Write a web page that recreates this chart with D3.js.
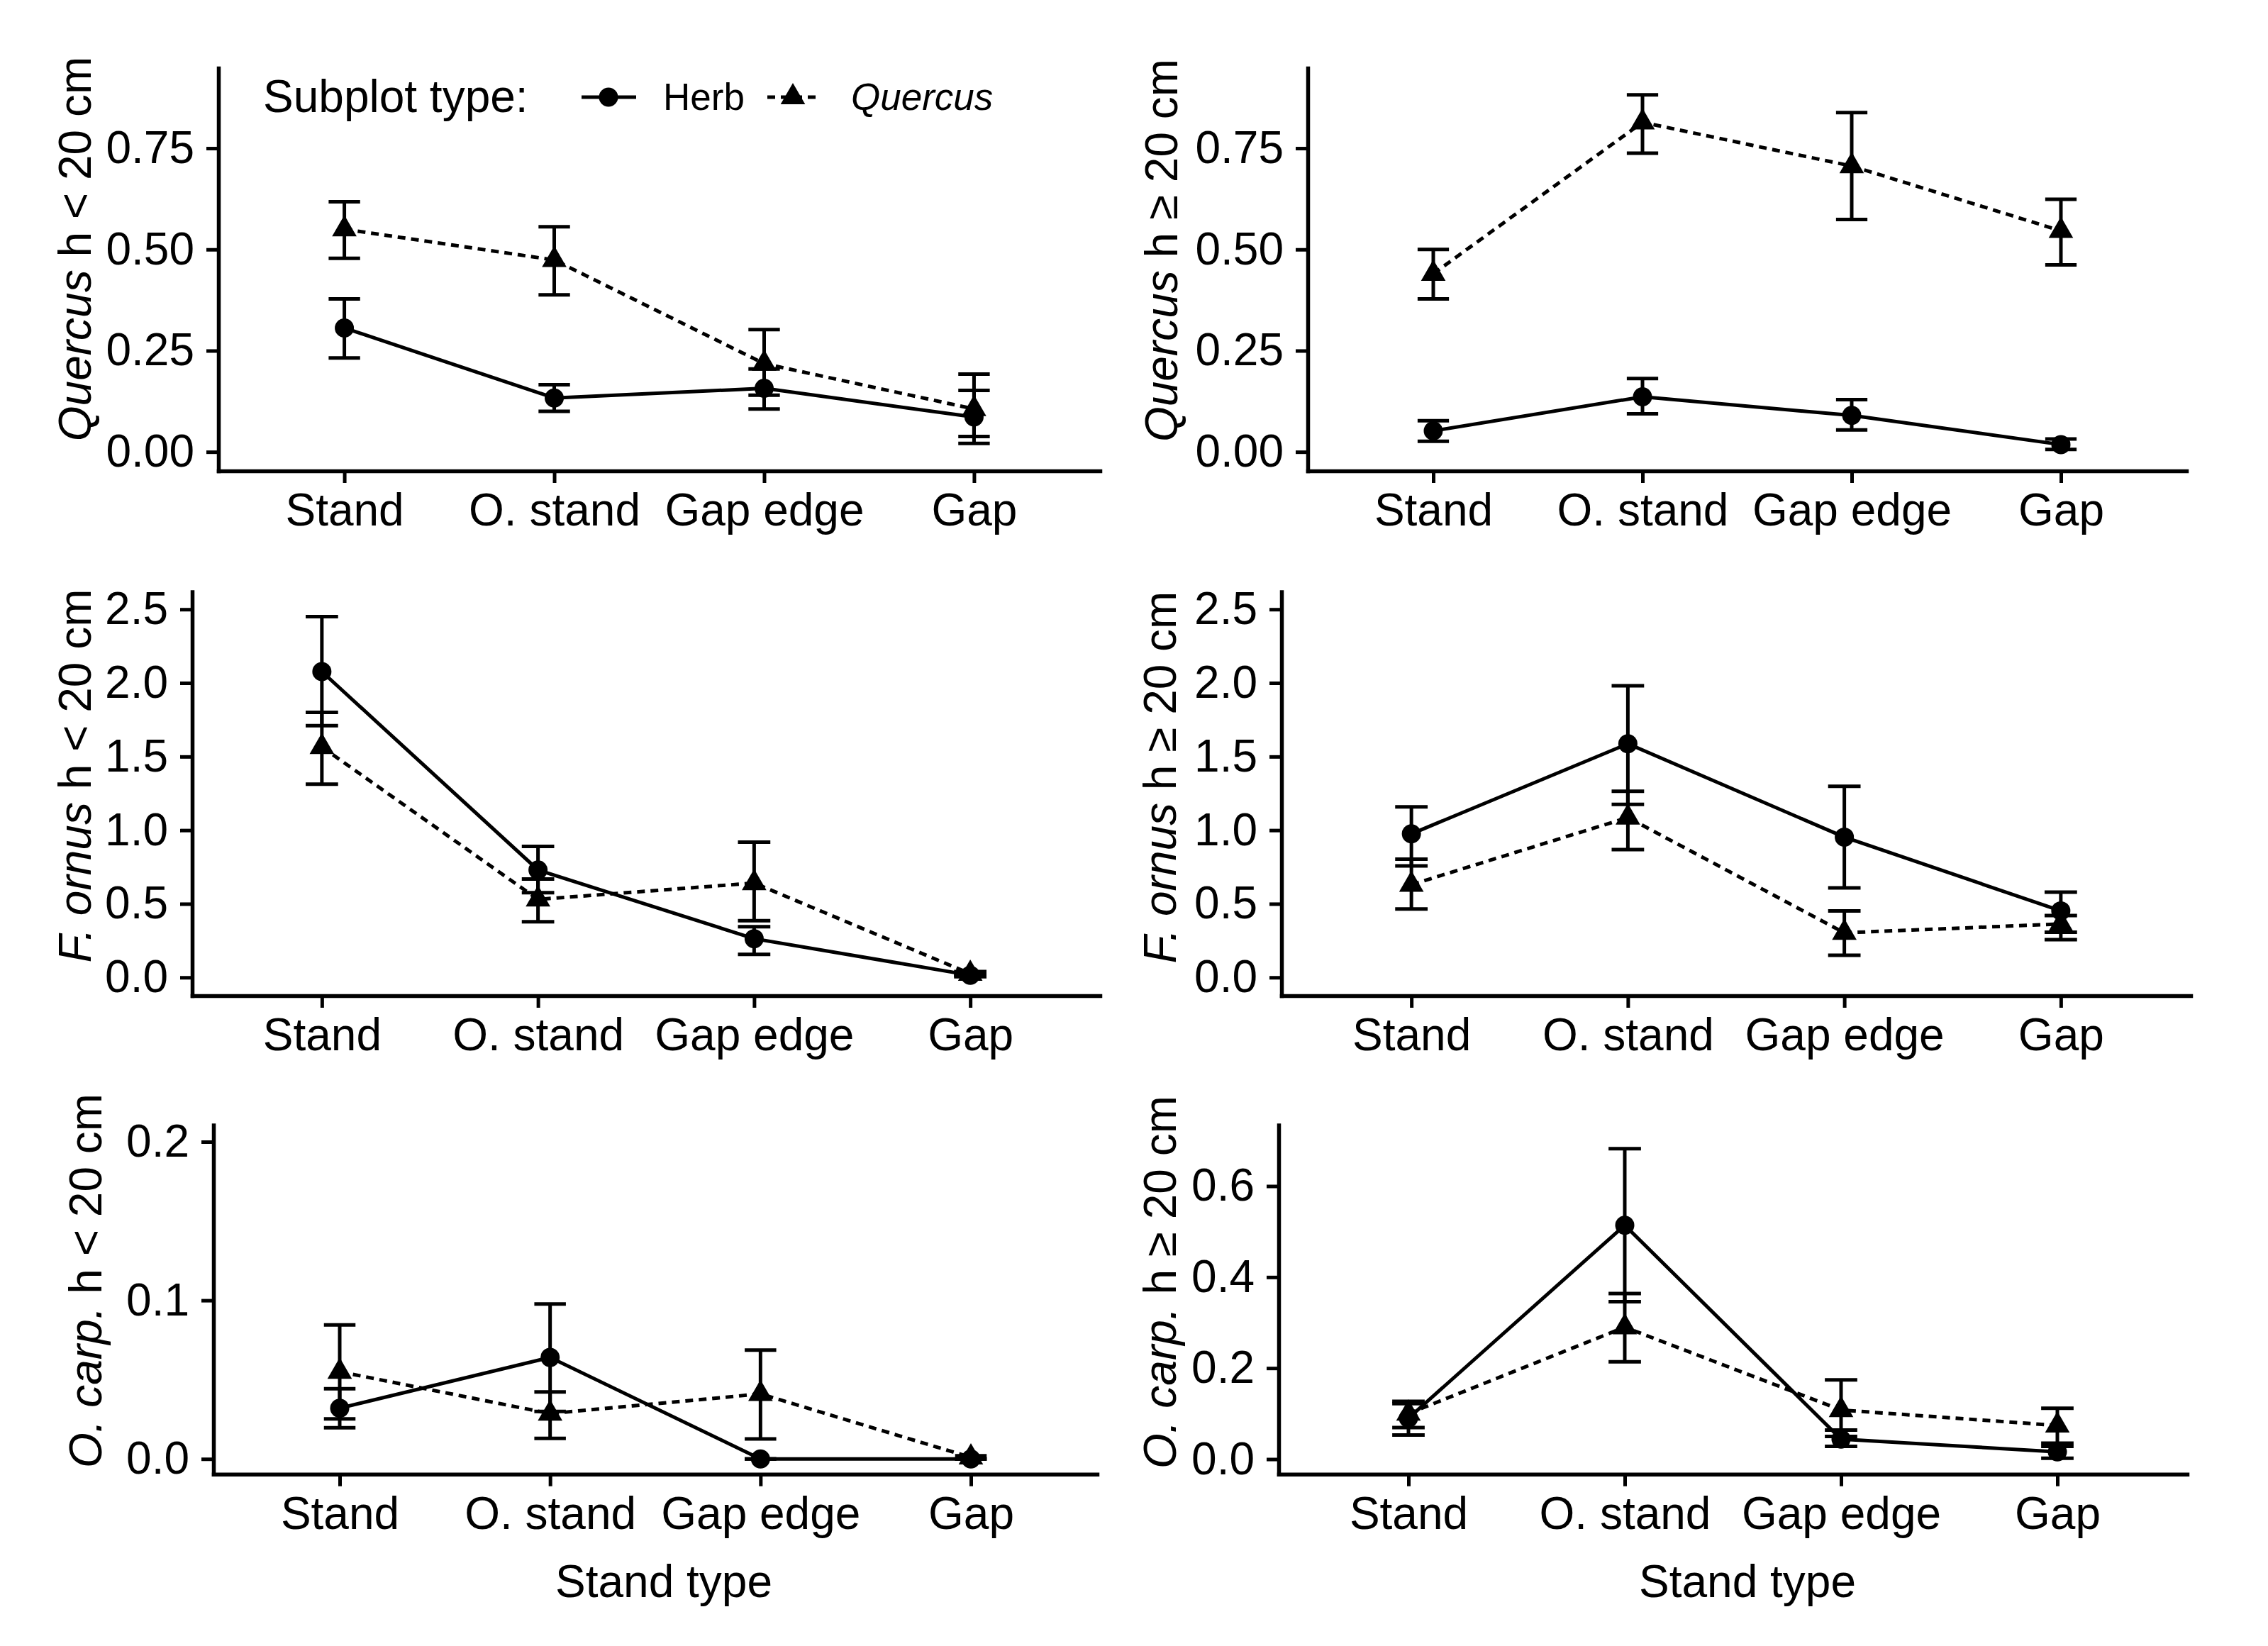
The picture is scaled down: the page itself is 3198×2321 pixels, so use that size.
<!DOCTYPE html>
<html>
<head>
<meta charset="utf-8">
<script src="https://cdn.jsdelivr.net/npm/d3@7"></script>
<style>
  body { margin: 0; background: #fff; }
  text { font-family: "Liberation Sans", Arial, sans-serif; fill: #000; }
</style>
</head>
<body>
<svg id="chart" width="3198" height="2321"></svg>
<script>
var categories = ["Stand", "O. stand", "Gap edge", "Gap"];

// Quercus h < 20 cm
var qLowHerb = [0.306, 0.133, 0.157, 0.086];
var qLowHerbErr = [[0.232, 0.378], [0.100, 0.166], [0.106, 0.205], [0.021, 0.152]];
var qLowQuer = [0.550, 0.474, 0.218, 0.106];
var qLowQuerErr = [[0.478, 0.618], [0.388, 0.556], [0.140, 0.302], [0.038, 0.192]];

// Quercus h >= 20 cm
var qHighHerb = [0.052, 0.136, 0.090, 0.018];
var qHighHerbErr = [[0.026, 0.077], [0.094, 0.181], [0.054, 0.129], [0.006, 0.032]];
var qHighQuer = [0.440, 0.814, 0.706, 0.546];
var qHighQuerErr = [[0.378, 0.500], [0.738, 0.882], [0.574, 0.838], [0.462, 0.624]];

// F. ornus h < 20 cm
var fLowHerb = [2.077, 0.730, 0.263, 0.015];
var fLowHerbErr = [[1.71, 2.451], [0.575, 0.890], [0.156, 0.345], [0.005, 0.025]];
var fLowQuer = [1.565, 0.530, 0.641, 0.025];
var fLowQuerErr = [[1.313, 1.80], [0.378, 0.668], [0.385, 0.919], [0.012, 0.040]];

// F. ornus h >= 20 cm
var fHighHerb = [0.975, 1.587, 0.953, 0.452];
var fHighHerbErr = [[0.758, 1.158], [1.175, 1.981], [0.608, 1.298], [0.307, 0.579]];
var fHighQuer = [0.630, 1.086, 0.303, 0.363];
var fHighQuerErr = [[0.465, 0.803], [0.868, 1.264], [0.151, 0.452], [0.256, 0.420]];

// O. carp. h < 20 cm
var oLowHerb = [0.032, 0.064, 0.0, 0.0];
var oLowHerbErr = [[0.0197, 0.0443], [0.030, 0.0977], [0.0, 0.0], [0.0, 0.0]];
var oLowQuer = [0.055, 0.0286, 0.041, 0.001];
var oLowQuerErr = [[0.0253, 0.0845], [0.013, 0.0423], [0.0126, 0.0686], [0.0, 0.002]];

// O. carp. h >= 20 cm
var oHighHerb = [0.090, 0.514, 0.044, 0.016];
var oHighHerbErr = [[0.053, 0.127], [0.346, 0.682], [0.028, 0.064], [0.002, 0.028]];
var oHighQuer = [0.100, 0.290, 0.108, 0.074];
var oHighQuerErr = [[0.0695, 0.122], [0.214, 0.364], [0.050, 0.174], [0.035, 0.112]];

var qTicks = [0, 0.25, 0.5, 0.75];
var fTicks = [0, 0.5, 1.0, 1.5, 2.0, 2.5];
var oLowTicks = [0, 0.1, 0.2];
var oHighTicks = [0, 0.2, 0.4, 0.6];

var legendLabels = ["Herb", "Quercus"];

var svg = d3.select("#chart");

/* one entry per sub-plot: data + where it sits */
var panels = [
  {herb: qLowHerb, herbErr: qLowHerbErr, quer: qLowQuer, querErr: qLowQuerErr,
   ticks: qTicks, fmt: ".2f", yDomain: [-0.047, 0.948], genus: "Quercus", rest: " h < 20 cm",
   left: 308, right: 1551, top: 96, bottom: 664, titleX: 128, titleY: 351, legend: true},
  {herb: qHighHerb, herbErr: qHighHerbErr, quer: qHighQuer, querErr: qHighQuerErr,
   ticks: qTicks, fmt: ".2f", yDomain: [-0.047, 0.948], genus: "Quercus", rest: " h \u2265 20 cm",
   left: 1844, right: 3083, top: 96, bottom: 664, titleX: 1660, titleY: 353},
  {herb: fLowHerb, herbErr: fLowHerbErr, quer: fLowQuer, querErr: fLowQuerErr,
   ticks: fTicks, fmt: ".1f", yDomain: [-0.124, 2.619], genus: "F. ornus", rest: " h < 20 cm",
   left: 271, right: 1551, top: 834.5, bottom: 1404, titleX: 128, titleY: 1094},
  {herb: fHighHerb, herbErr: fHighHerbErr, quer: fHighQuer, querErr: fHighQuerErr,
   ticks: fTicks, fmt: ".1f", yDomain: [-0.124, 2.619], genus: "F. ornus", rest: " h \u2265 20 cm",
   left: 1807, right: 3089, top: 834.5, bottom: 1404, titleX: 1658, titleY: 1096},
  {herb: oLowHerb, herbErr: oLowHerbErr, quer: oLowQuer, querErr: oLowQuerErr,
   ticks: oLowTicks, fmt: ".1f", yDomain: [-0.0096, 0.2105], genus: "O. carp.", rest: " h < 20 cm",
   left: 301, right: 1547, top: 1586.5, bottom: 2078.7, titleX: 143, titleY: 1806, xTitle: 936},
  {herb: oHighHerb, herbErr: oHighHerbErr, quer: oHighQuer, querErr: oHighQuerErr,
   ticks: oHighTicks, fmt: ".1f", yDomain: [-0.033, 0.734], genus: "O. carp.", rest: " h \u2265 20 cm",
   left: 1803, right: 3084, top: 1586.5, bottom: 2078.7, titleX: 1658, titleY: 1808, xTitle: 2464}
];

var triangle = d3.symbol().type(d3.symbolTriangle).size(520);

panels.forEach(function(p) {
  var x = d3.scalePoint().domain(categories).range([p.left, p.right]).padding(0.6);
  var y = d3.scaleLinear().domain(p.yDomain).range([p.bottom, p.top]);
  var capW = x.step() * 0.075;
  var g = svg.append("g");

  // axes
  var ya = g.append("g")
    .attr("transform", "translate(" + p.left + ",0)")
    .call(d3.axisLeft(y).tickValues(p.ticks).tickFormat(d3.format(p.fmt))
      .tickSize(17).tickSizeOuter(0).tickPadding(17));
  var xa = g.append("g")
    .attr("transform", "translate(0," + p.bottom + ")")
    .call(d3.axisBottom(x).tickSize(17).tickSizeOuter(0).tickPadding(15));
  [ya, xa].forEach(function(a) {
    a.attr("font-size", 64);
    a.select(".domain").attr("stroke-width", 5.5).attr("stroke-linecap", "square");
    a.selectAll(".tick line").attr("stroke-width", 5);
  });

  // y title
  var t = g.append("text")
    .attr("transform", "translate(" + p.titleX + "," + p.titleY + ") rotate(-90)")
    .attr("text-anchor", "middle")
    .attr("font-size", 64);
  t.append("tspan").attr("font-style", "italic").text(p.genus);
  t.append("tspan").text(p.rest);

  if (p.xTitle) {
    g.append("text")
      .attr("x", p.xTitle).attr("y", 2252)
      .attr("text-anchor", "middle")
      .attr("font-size", 64)
      .text("Stand type");
  }

  var line = d3.line()
    .x(function(d, i) { return x(categories[i]); })
    .y(function(d) { return y(d); });

  g.append("path").datum(p.herb)
    .attr("d", line).attr("fill", "none")
    .attr("stroke", "#000").attr("stroke-width", 5);
  g.append("path").datum(p.quer)
    .attr("d", line).attr("fill", "none")
    .attr("stroke", "#000").attr("stroke-width", 5)
    .attr("stroke-dasharray", "11,8");

  // error bars
  [p.herbErr, p.querErr].forEach(function(err) {
    var eb = g.selectAll(null).data(err).enter().append("g");
    eb.append("line")
      .attr("x1", function(d, i) { return x(categories[i]); })
      .attr("x2", function(d, i) { return x(categories[i]); })
      .attr("y1", function(d) { return y(d[0]); })
      .attr("y2", function(d) { return y(d[1]); })
      .attr("stroke", "#000").attr("stroke-width", 5);
    [0, 1].forEach(function(k) {
      eb.append("line")
        .attr("x1", function(d, i) { return x(categories[i]) - capW; })
        .attr("x2", function(d, i) { return x(categories[i]) + capW; })
        .attr("y1", function(d) { return y(d[k]); })
        .attr("y2", function(d) { return y(d[k]); })
        .attr("stroke", "#000").attr("stroke-width", 5);
    });
  });

  // points
  g.selectAll(null).data(p.herb).enter().append("circle")
    .attr("cx", function(d, i) { return x(categories[i]); })
    .attr("cy", function(d) { return y(d); })
    .attr("r", 13.5).attr("fill", "#000");
  g.selectAll(null).data(p.quer).enter().append("path")
    .attr("d", triangle)
    .attr("transform", function(d, i) { return "translate(" + x(categories[i]) + "," + y(d) + ")"; })
    .attr("fill", "#000");

  if (p.legend) {
    var lg = g.append("g");
    lg.append("text").attr("x", 371).attr("y", 158).attr("font-size", 64).text("Subplot type:");
    // herb key
    lg.append("line").attr("x1", 820).attr("x2", 897).attr("y1", 137).attr("y2", 137)
      .attr("stroke", "#000").attr("stroke-width", 5);
    lg.append("circle").attr("cx", 858).attr("cy", 137).attr("r", 13.5).attr("fill", "#000");
    lg.append("text").attr("x", 935).attr("y", 155).attr("font-size", 53).text(legendLabels[0]);
    // quercus key
    lg.append("line").attr("x1", 1082).attr("x2", 1157).attr("y1", 137).attr("y2", 137)
      .attr("stroke", "#000").attr("stroke-width", 5).attr("stroke-dasharray", "11,8");
    lg.append("path").attr("d", triangle).attr("transform", "translate(1118,137)").attr("fill", "#000");
    lg.append("text").attr("x", 1200).attr("y", 155).attr("font-size", 53)
      .attr("font-style", "italic").text(legendLabels[1]);
  }
});
</script>
</body>
</html>
